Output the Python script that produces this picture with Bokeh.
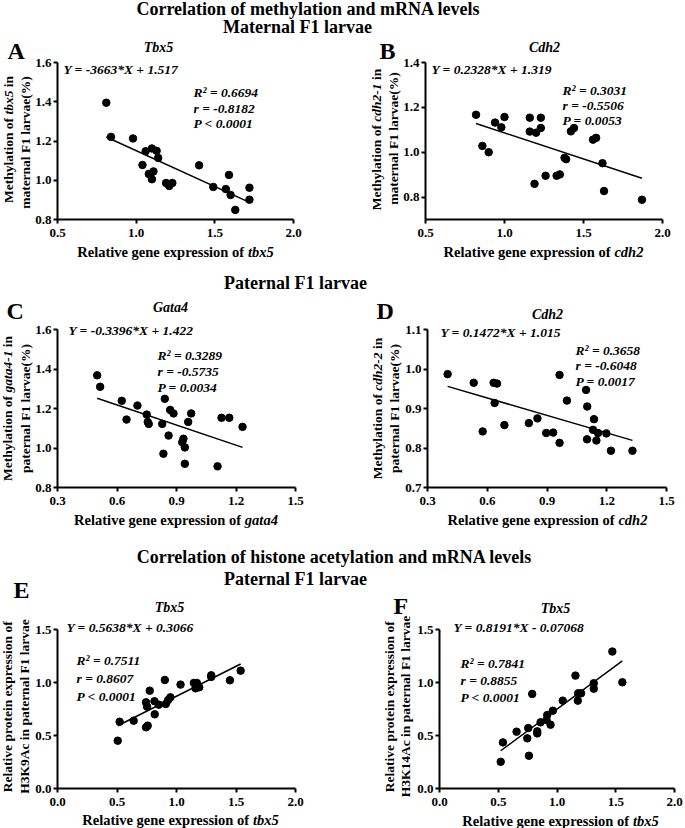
import math
from bokeh.plotting import figure
from bokeh.models import Range1d, Label, FixedTicker, NumeralTickFormatter
from bokeh.layouts import column, row
from bokeh.embed import file_html
from bokeh.resources import INLINE

SERIF = "Liberation Serif"

# ---------------- data ----------------
A_x = [0.81, 0.84, 0.98, 1.06, 1.04, 1.08, 1.09, 1.10, 1.13, 1.14, 1.10, 1.11, 1.19, 1.21, 1.23,
       1.40, 1.49, 1.57, 1.59, 1.60, 1.63, 1.72, 1.72]
A_y = [1.395, 1.221, 1.213, 1.148, 1.078, 1.032, 1.028, 1.162, 1.150, 1.114, 1.005, 1.045, 0.986,
       0.971, 0.986, 1.076, 0.966, 0.955, 1.027, 0.925, 0.849, 0.962, 0.901]
A_fit = (-0.3663, 1.517)

B_x = [0.82, 0.86, 0.90, 0.94, 0.98, 1.00, 1.16, 1.16, 1.20, 1.23, 1.23, 1.19, 1.26, 1.33, 1.35,
       1.38, 1.39, 1.42, 1.44, 1.56, 1.58, 1.62, 1.63, 1.87]
B_y = [1.167, 1.028, 1.000, 1.132, 1.111, 1.157, 1.154, 1.092, 1.087, 1.154, 1.108, 0.859, 0.895,
       0.895, 0.901, 0.975, 0.969, 1.093, 1.108, 1.056, 1.064, 0.951, 0.827, 0.788]
B_fit = (-0.2328, 1.319)

C_x = [0.50, 0.515, 0.624, 0.648, 0.703, 0.750, 0.755, 0.760, 0.828, 0.841, 0.868, 0.885, 0.860,
       0.834, 0.959, 0.974, 0.935, 0.929, 0.942, 0.942, 1.107, 1.127, 1.166, 1.233]
C_y = [1.368, 1.310, 1.239, 1.144, 1.215, 1.169, 1.132, 1.122, 1.122, 1.249, 1.193, 1.175, 1.063,
       0.971, 1.132, 1.175, 1.047, 1.029, 1.003, 0.920, 0.907, 1.153, 1.153, 1.107]
C_fit = (-0.3396, 1.422)

D_x = [0.401, 0.532, 0.632, 0.649, 0.637, 0.577, 0.686, 0.809, 0.852, 0.896, 0.931, 0.963, 0.963,
       1.000, 1.096, 1.102, 1.136, 1.131, 1.156, 1.101, 1.148, 1.198, 1.221, 1.329]
D_y = [0.987, 0.965, 0.965, 0.963, 0.914, 0.842, 0.858, 0.863, 0.875, 0.838, 0.839, 0.813, 0.985,
       0.920, 0.947, 0.905, 0.873, 0.846, 0.838, 0.822, 0.819, 0.837, 0.793, 0.793]
D_fit = (-0.1472, 1.015)

E_x = [0.506, 0.522, 0.640, 0.744, 0.758, 0.753, 0.744, 0.775, 0.815, 0.817, 0.851, 0.902, 0.910,
       0.930, 0.949, 1.034, 1.146, 1.171, 1.160, 1.191, 1.292, 1.292, 1.449, 1.539]
E_y = [0.451, 0.630, 0.640, 0.577, 0.593, 0.772, 0.813, 0.923, 0.823, 0.700, 0.791, 1.024, 0.797,
       0.835, 0.860, 0.980, 0.996, 0.996, 0.945, 0.955, 1.068, 1.053, 1.021, 1.112]
E_fit = (0.5638, 0.3066)

F_x = [0.521, 0.540, 0.656, 0.747, 0.755, 0.761, 0.789, 0.832, 0.832, 0.860, 0.917, 0.911, 0.945,
       0.965, 1.049, 1.157, 1.180, 1.177, 1.205, 1.313, 1.313, 1.471, 1.556]
F_y = [0.252, 0.435, 0.536, 0.473, 0.570, 0.309, 0.892, 0.539, 0.520, 0.624, 0.693, 0.646, 0.602,
       0.734, 0.829, 1.065, 0.898, 0.829, 0.898, 0.993, 0.942, 1.292, 1.002]
F_fit = (0.8191, -0.07068)

A_text = ["Y = -3663*X + 1.517", "R² = 0.6694", "r = -0.8182", "P < 0.0001"]
B_text = ["Y = 0.2328*X + 1.319", "R² = 0.3031", "r = -0.5506", "P = 0.0053"]
C_text = ["Y = -0.3396*X + 1.422", "R² = 0.3289", "r = -0.5735", "P = 0.0034"]
D_text = ["Y = 0.1472*X + 1.015", "R² = 0.3658", "r = -0.6048", "P = 0.0017"]
E_text = ["Y = 0.5638*X + 0.3066", "R² = 0.7511", "r = 0.8607", "P < 0.0001"]
F_text = ["Y = 0.8191*X - 0.07068", "R² = 0.7841", "r = 0.8855", "P < 0.0001"]

ticks_05_20 = [0.5, 1.0, 1.5, 2.0]
ticks_03_15 = [0.3, 0.6, 0.9, 1.2, 1.5]
ticks_00_20 = [0.0, 0.5, 1.0, 1.5, 2.0]
ticks_08_16 = [0.8, 1.0, 1.2, 1.4, 1.6]
ticks_08_14 = [0.8, 1.0, 1.2, 1.4]
ticks_07_11 = [0.7, 0.8, 0.9, 1.0, 1.1]
ticks_00_15 = [0.0, 0.5, 1.0, 1.5]

# --------------- text metrics (Times-compatible) ---------------
BOLD_W = {' ': 250, '(': 333, ')': 333, '%': 1000, '-': 333, '.': 250,
          'A': 722, 'C': 722, 'F': 611, 'H': 778, 'K': 778, 'M': 944, 'R': 722,
          'a': 500, 'b': 556, 'c': 444, 'd': 556, 'e': 444, 'f': 333, 'g': 500, 'h': 556,
          'i': 278, 'l': 278, 'm': 833, 'n': 556, 'o': 500, 'p': 556, 'r': 444, 's': 389,
          't': 333, 'u': 556, 'v': 500, 'x': 500, 'y': 500}
BI_W = {' ': 250, '-': 333, 'a': 500, 'b': 500, 'c': 444, 'd': 500, 'g': 500, 'h': 556,
        't': 278, 'x': 500}


def tw(s, italic, size):
    tab = BI_W if italic else BOLD_W
    return sum(tab.get(ch, 500) for ch in s) * size / 1000.0


class Panel:
    """A figure whose frame fills the whole figure; the data box (xr, yr) is mapped to
    the pixel box (fl, ft, fw, fh) of the page, axes are pinned with fixed_location."""

    def __init__(self, fx0, fy0, fwid, fhei, fl, ft, fw, fh, xr, yr, axes=True):
        self.fx0, self.fy0 = fx0, fy0
        self.sx = (xr[1] - xr[0]) / fw
        self.sy = (yr[1] - yr[0]) / fh
        self.x0 = xr[0] - (fl - fx0) * self.sx
        self.y1 = yr[1] + (ft - fy0) * self.sy
        x1 = self.x0 + fwid * self.sx
        y0 = self.y1 - fhei * self.sy
        self.p = figure(frame_width=fwid, frame_height=fhei,
                        min_border_left=0, min_border_right=0,
                        min_border_top=0, min_border_bottom=0,
                        x_range=Range1d(self.x0, x1), y_range=Range1d(y0, self.y1),
                        toolbar_location=None, output_backend="svg",
                        **({} if axes else dict(x_axis_location=None, y_axis_location=None)))
        p = self.p
        p.outline_line_color = None
        p.xgrid.visible = False
        p.ygrid.visible = False
        if axes:
            p.xaxis.fixed_location = yr[0]
            p.yaxis.fixed_location = xr[0]
            p.xaxis.bounds = xr
            p.yaxis.bounds = yr

    def dx(self, px):
        return self.x0 + (px - self.fx0) * self.sx

    def dy(self, py):
        return self.y1 - (py - self.fy0) * self.sy

    def text(self, px, py, s, size, style="bold", align="left", angle=0.0):
        self.p.add_layout(Label(x=self.dx(px), y=self.dy(py), text=s, text_font=SERIF,
                                text_font_style=style, text_font_size=f"{size}px",
                                text_align=align, text_baseline="middle", angle=angle,
                                text_color="black"))

    def segs(self, segs, cx, cy, size, vertical=False):
        widths = [tw(t, it, size) for t, it in segs]
        total = sum(widths)
        pos = (cy + total / 2) if vertical else (cx - total / 2)
        for (t, it), w in zip(segs, widths):
            lead = len(t) - len(t.lstrip(' '))
            off = tw(' ' * lead, it, size)
            style = "bold italic" if it else "bold"
            if vertical:
                self.text(cx, pos - off, t.strip(), size, style, "left", math.pi / 2)
                pos -= w
            else:
                self.text(pos + off, cy, t.strip(), size, style, "left")
                pos += w


def style_axes(p, xticks, yticks):
    p.xaxis.ticker = FixedTicker(ticks=xticks)
    p.yaxis.ticker = FixedTicker(ticks=yticks)
    for ax in (p.xaxis[0], p.yaxis[0]):
        ax.axis_line_width = 2
        ax.axis_line_color = "black"
        ax.major_tick_line_width = 2
        ax.major_tick_line_color = "black"
        ax.major_tick_out = 4
        ax.major_tick_in = 0
        ax.minor_tick_line_color = None
        ax.major_label_text_font = SERIF
        ax.major_label_text_font_style = "bold"
        ax.major_label_text_font_size = "13px"
        ax.major_label_text_color = "black"
        ax.formatter = NumeralTickFormatter(format="0.0")
    p.xaxis[0].major_label_standoff = 5
    p.yaxis[0].major_label_standoff = 2


def scatter_panel(geom, xs, ys, fit, xticks, yticks, letter, gene, texts, labs):
    pn = Panel(*geom)
    p = pn.p
    style_axes(p, xticks, yticks)
    p.scatter(x=xs, y=ys, size=7.5, marker="circle", fill_color="black", line_color="black")
    m, b = fit
    x0, x1 = min(xs), max(xs)
    p.line(x=[x0, x1], y=[m * x0 + b, m * x1 + b], line_width=1.5, line_color="black")
    (lx, ly), (gx, gy), (ex, ey), (sx, sys_), (xlx, xly, xgene), (yl1, yl2) = labs
    pn.text(lx, ly, letter, 24, "bold")
    pn.text(gx, gy, gene, 14, "bold italic", "center")
    pn.text(ex, ey, texts[0], 13.5, "bold italic")
    for s, yy in zip(texts[1:], sys_):
        pn.text(sx, yy, s, 13.5, "bold italic")
    pn.segs([("Relative gene expression of ", False), (xgene, True)], xlx, xly, 14.5)
    for (x, y, segs) in (yl1, yl2):
        pn.segs(segs, x, y, 13.5, vertical=True)
    return pn


pA = scatter_panel((0, 36, 345, 226, 57, 62, 236, 157, (0.5, 2.0), (0.8, 1.6)), A_x, A_y, A_fit,
                   ticks_05_20, ticks_08_16, "A", "Tbx5", A_text,
                   ((7, 50), (158, 47), (63, 69), (193, [92, 108, 123]), (175, 251, "tbx5"),
                    ((8, 139, [("Methylation of ", False), ("tbx5", True), (" in", False)]),
                     (24.5, 142, [("maternal F1 larvae(%)", False)]))))
pB = scatter_panel((345, 36, 340, 226, 425, 62, 237, 157, (0.5, 2.0), (0.7, 1.4)), B_x, B_y, B_fit,
                   ticks_05_20, ticks_08_14, "B", "Cdh2", B_text,
                   ((379, 50), (544, 47), (431, 69), (562, [90, 105, 120]), (543, 251, "cdh2"),
                    ((376, 139, [("Methylation of ", False), ("cdh2-1", True), (" in", False)]),
                     (393, 138, [("maternal F1 larvae(%)", False)]))))
pC = scatter_panel((0, 292, 345, 246, 57, 329, 238, 158, (0.3, 1.5), (0.8, 1.6)), C_x, C_y, C_fit,
                   ticks_03_15, ticks_08_16, "C", "Gata4", C_text,
                   ((6, 310.5), (170, 307), (68, 330), (157, [355, 371, 387]), (175.5, 519, "gata4"),
                    ((7, 408, [("Methylation of ", False), ("gata4-1", True), (" in", False)]),
                     (24.5, 408, [("paternal F1 larvae(%)", False)]))))
pD = scatter_panel((345, 292, 340, 246, 427, 329, 239, 158, (0.3, 1.5), (0.7, 1.1)), D_x, D_y, D_fit,
                   ticks_03_15, ticks_07_11, "D", "Cdh2", D_text,
                   ((376, 310.5), (547, 314), (440, 331.5), (575, [350, 365, 381]), (547, 519, "cdh2"),
                    ((377, 408, [("Methylation of ", False), ("cdh2-2", True), (" in", False)]),
                     (394, 408, [("paternal F1 larvae(%)", False)]))))
pE = scatter_panel((0, 568, 370, 260, 57, 629, 238, 159, (0.0, 2.0), (0.0, 1.5)), E_x, E_y, E_fit,
                   ticks_00_20, ticks_00_15, "E", "Tbx5", E_text,
                   ((13, 589), (169, 607), (66, 627), (76, [660, 678, 696]), (180, 819, "tbx5"),
                    ((7, 706, [("Relative protein expression of", False)]),
                     (24, 706, [("H3K9Ac in paternal F1 larvae", False)]))))
pF = scatter_panel((370, 568, 315, 260, 439, 629, 235, 159, (0.0, 2.0), (0.0, 1.5)), F_x, F_y, F_fit,
                   ticks_00_20, ticks_00_15, "F", "Tbx5", F_text,
                   ((393, 605), (555, 608), (453, 627), (460, [663, 680, 697]), (560, 820, "tbx5"),
                    ((389, 706, [("Relative protein expression of", False)]),
                     (405, 706, [("H3K14Ac in paternal F1 larvae", False)]))))
# second heading line of the histone section sits inside the E figure area
pE.text(295, 578, "Paternal F1 larvae", 18, "bold", "center")

# headings
h1 = Panel(0, 0, 685, 36, 0, 0, 685, 36, (0, 685), (0, 36), axes=False)
h1.text(308, 8, "Correlation of methylation and mRNA levels", 18, "bold", "center")
h1.text(297, 26.5, "Maternal F1 larvae", 18, "bold", "center")
h2 = Panel(0, 262, 685, 30, 0, 262, 685, 30, (0, 685), (0, 30), axes=False)
h2.text(295, 282, "Paternal F1 larvae", 18, "bold", "center")
h3 = Panel(0, 538, 685, 30, 0, 538, 685, 30, (0, 685), (0, 30), axes=False)
h3.text(334, 556, "Correlation of histone acetylation and mRNA levels", 18, "bold", "center")

layout = column(h1.p, row(pA.p, pB.p), h2.p, row(pC.p, pD.p), h3.p, row(pE.p, pF.p))

open("out.html", "w").write(file_html(layout, INLINE))
